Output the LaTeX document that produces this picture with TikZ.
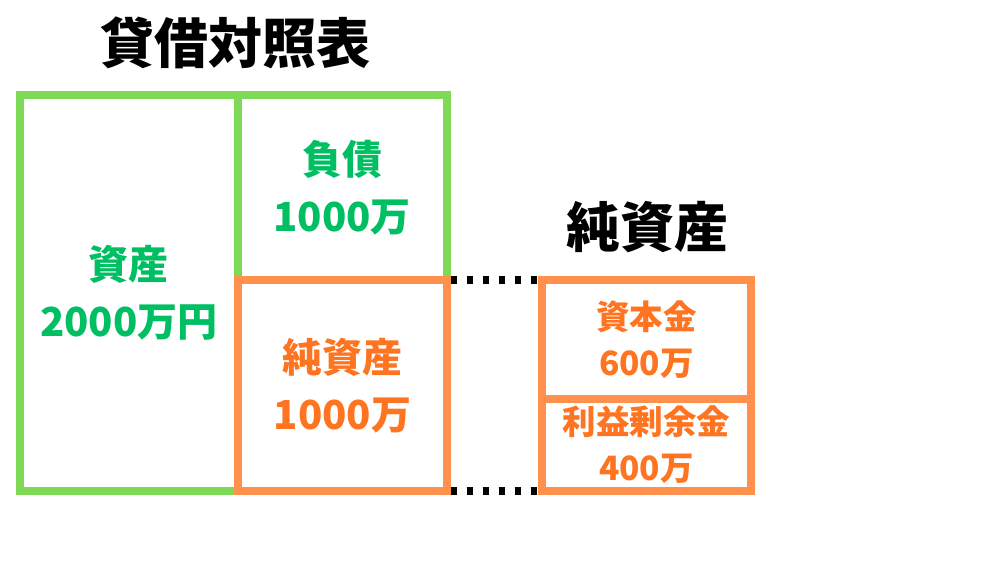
\documentclass[tikz,border=0pt]{standalone}
\usepackage{fontspec}
\setmainfont{Noto Sans CJK JP}
\definecolor{lgreen}{HTML}{7ED957}
\definecolor{tgreen}{HTML}{00BF63}
\definecolor{lorange}{HTML}{FF914D}
\definecolor{torange}{HTML}{FF7420}
\tikzset{
  boxbase/.style={rectangle, outer sep=0pt, inner sep=0pt, align=center, font=\bfseries\fontsize{40}{57}\selectfont},
  gbox/.style={boxbase, draw=lgreen, line width=8pt, text=tgreen},
  obox/.style={boxbase, draw=lorange, line width=8pt, text=torange},
  smalltext/.style={font=\bfseries\fontsize{33.5}{46}\selectfont},
  dots/.style={draw=black, line width=7.5pt, dash pattern=on 6.7pt off 9.3pt, shorten <=3.7pt, shorten >=3.7pt},
  heading/.style={inner sep=0pt, font=\bfseries\fontsize{54}{60}\selectfont, text=black}
}
\begin{document}
\begin{tikzpicture}[x=1pt,y=-1pt]
\useasboundingbox (0,0) rectangle (1000,562);
\fill[white] (0,0) rectangle (1000,562);
\node[heading] (title) at (235,43) {貸借対照表};
\node[gbox, minimum width=217.5pt, minimum height=396pt] (shisan) at (128.75,293) {資産\\2000万円};
\node[gbox, minimum width=209.5pt, minimum height=185pt] (fusai) at (342.25,187.5) {負債\\1000万};
\node[obox, minimum width=209pt, minimum height=211pt] (jun) at (342.5,385.5) {純資産\\1000万};
\node[heading] (junhead) at (647,227) {純資産};
\node[obox, smalltext, minimum width=209pt, minimum height=119pt] (shihon) at (646.5,339.5) {資本金\\600万};
\node[obox, smalltext, minimum width=209pt, minimum height=92pt] (rieki) at (646.5,445) {利益剰余金\\400万};
\draw[dots] (jun.north east) -- (shihon.north west);
\draw[dots] (jun.south east) -- (rieki.south west);
\end{tikzpicture}
\end{document}
